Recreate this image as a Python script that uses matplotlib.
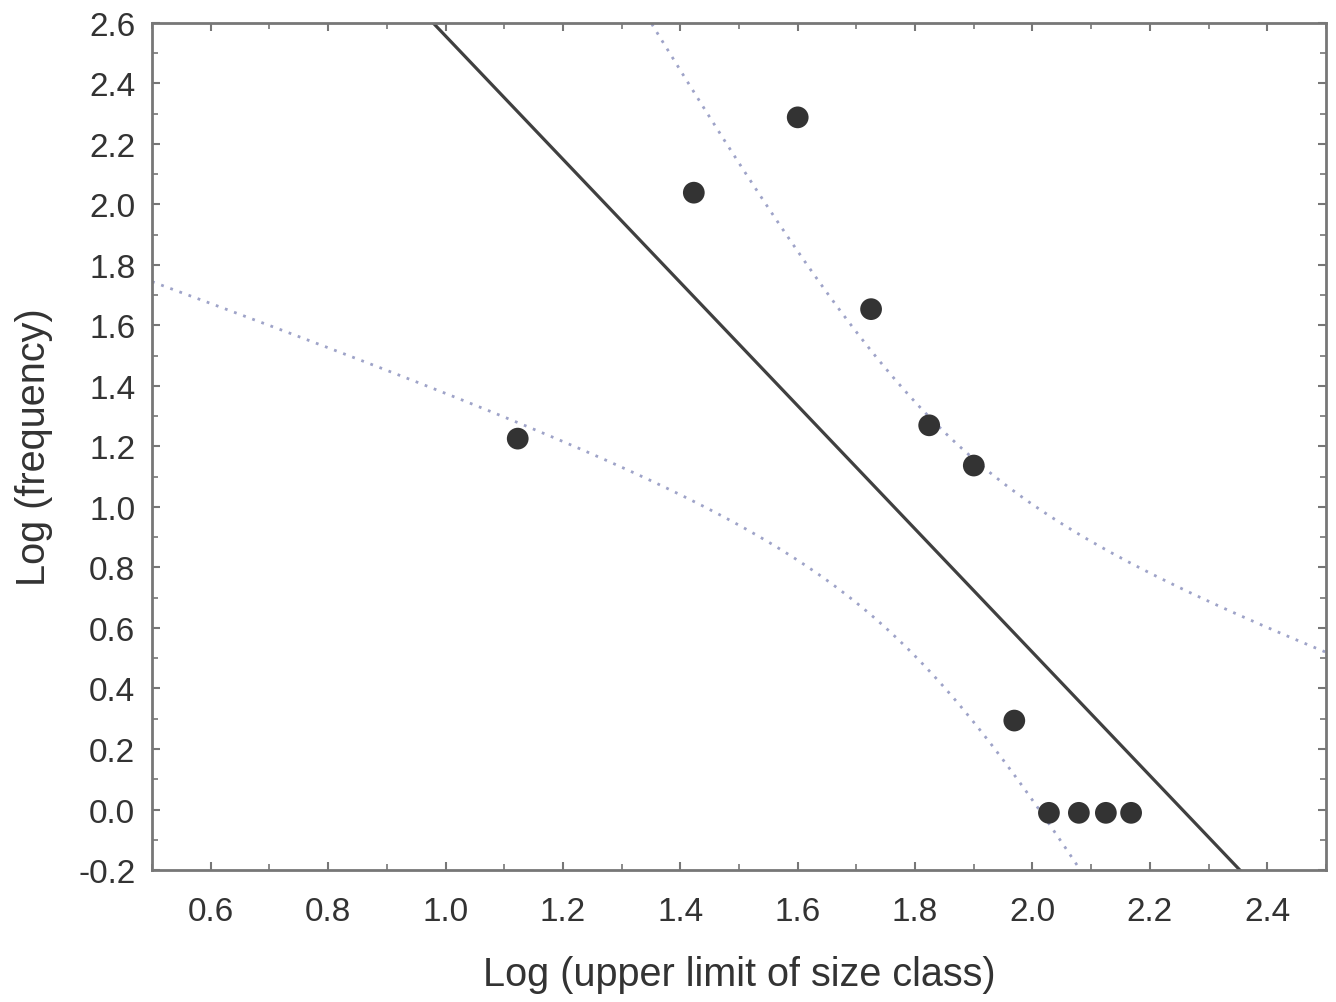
import numpy as np
import matplotlib
matplotlib.use("Agg")
import matplotlib.pyplot as plt
from matplotlib.ticker import MultipleLocator

plt.rcParams['font.family'] = ['Liberation Sans', 'DejaVu Sans']

# Data
log_size = [1.123, 1.423, 1.600, 1.725, 1.824, 1.900, 1.969, 2.028, 2.079, 2.125, 2.168]
log_freq = [1.226, 2.039, 2.288, 1.654, 1.270, 1.137, 0.294, -0.011, -0.011, -0.011, -0.011]
x_ticks = [0.6, 0.8, 1.0, 1.2, 1.4, 1.6, 1.8, 2.0, 2.2, 2.4]
y_ticks = [-0.2, 0.0, 0.2, 0.4, 0.6, 0.8, 1.0, 1.2, 1.4, 1.6, 1.8, 2.0, 2.2, 2.4, 2.6]

x = np.array(log_size)
y = np.array(log_freq)
n = len(x)
slope, intercept = np.polyfit(x, y, 1)
resid = y - (slope * x + intercept)
s = np.sqrt(np.sum(resid**2) / (n - 2))
sxx = np.sum((x - x.mean())**2)
t = 2.262  # t(0.975, df=9)

xx = np.linspace(0.5, 2.5, 400)
yy = slope * xx + intercept
half = t * s * np.sqrt(1.0 / n + (xx - x.mean())**2 / sxx)

fig = plt.figure(figsize=(13.36, 10.03), dpi=100)
ax = fig.add_axes([0.1138, 0.1316, 0.8787, 0.8445])

ax.plot(xx, yy, color='#404040', lw=2.3, zorder=2)
ax.plot(xx, yy + half, color='#9ea3c8', lw=2.0, ls=(0, (1, 2.5)), zorder=2)
ax.plot(xx, yy - half, color='#9ea3c8', lw=2.0, ls=(0, (1, 2.5)), zorder=2)
ax.scatter(x, y, s=245, color='#333333', zorder=3, edgecolors='none')

ax.set_xlim(0.5, 2.5)
ax.set_ylim(-0.2, 2.6)
ax.set_xticks(x_ticks)
ax.set_yticks(y_ticks)
ax.set_xticklabels([f"{v:.1f}" for v in x_ticks])
ax.set_yticklabels([f"{v:.1f}" for v in y_ticks])
ax.xaxis.set_minor_locator(MultipleLocator(0.1))
ax.yaxis.set_minor_locator(MultipleLocator(0.1))
ax.tick_params(which='both', direction='in', top=True, right=True, color='#777777')
ax.tick_params(which='major', length=6, width=1.5, labelsize=24, labelcolor='#333333')
ax.tick_params(axis='x', which='major', pad=19)
ax.tick_params(axis='y', which='major', pad=12)
ax.tick_params(which='minor', length=4, width=1.2)
for sp in ax.spines.values():
    sp.set_color('#777777')
    sp.set_linewidth(2)

ax.set_xlabel('Log (upper limit of size class)', fontsize=28.5, color='#333333', labelpad=20)
ax.set_ylabel('Log (frequency)', fontsize=28.5, color='#333333', labelpad=18)

fig.savefig('out.png', dpi=100)
